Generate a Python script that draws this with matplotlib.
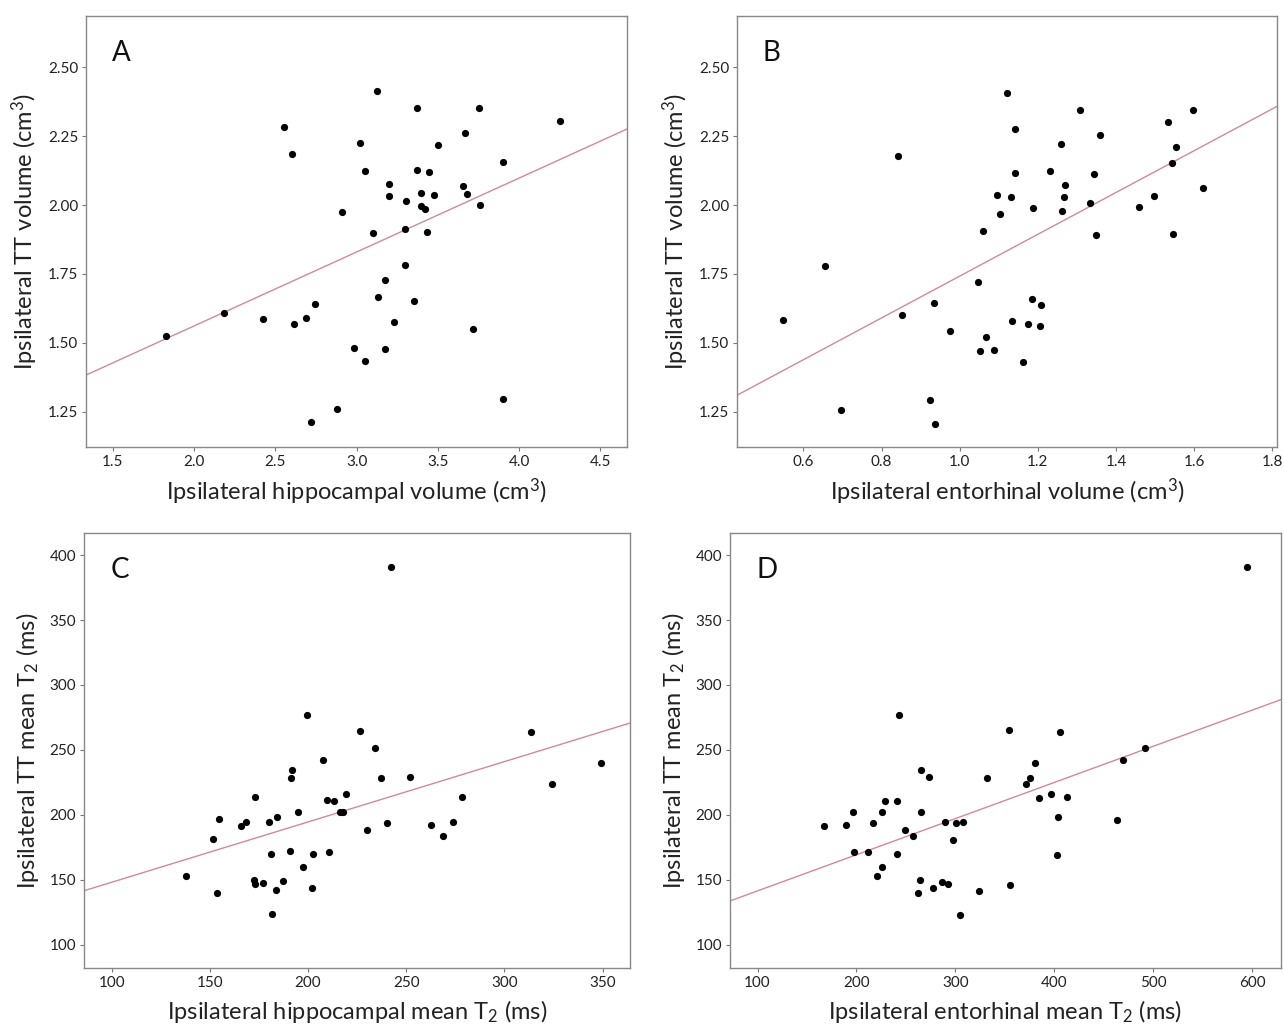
import matplotlib
matplotlib.use("Agg")
import matplotlib.pyplot as plt
import numpy as np

plt.rcParams["font.family"] = ["Lato", "DejaVu Sans"]
plt.rcParams["mathtext.fontset"] = "custom"
plt.rcParams["mathtext.rm"] = "Lato"
plt.rcParams["mathtext.it"] = "Lato"
plt.rcParams["mathtext.default"] = "regular"

# panel A: hippocampal volume vs TT volume
hip_vol = [1.825, 2.186, 2.421, 2.612, 2.691, 2.744, 2.553, 2.605, 2.718, 2.878,
           2.911, 2.984, 3.052, 3.021, 3.049, 3.124, 3.104, 3.133, 3.173, 3.175,
           3.201, 3.201, 3.230, 3.296, 3.300, 3.305, 3.353, 3.375, 3.375, 3.397,
           3.397, 3.419, 3.432, 3.445, 3.476, 3.502, 3.654, 3.665, 3.678, 3.715,
           3.753, 3.759, 3.902, 3.900, 4.254]
tt_vol_a = [1.526, 1.607, 1.587, 1.569, 1.590, 1.641, 2.282, 2.185, 1.214, 1.261,
            1.974, 1.480, 1.436, 2.226, 2.123, 2.412, 1.897, 1.666, 1.728, 1.477,
            2.076, 2.034, 1.575, 1.784, 1.912, 2.014, 1.651, 2.351, 2.127, 2.043,
            1.995, 1.984, 1.903, 2.118, 2.035, 2.218, 2.070, 2.260, 2.040, 1.549,
            2.350, 1.999, 2.157, 1.298, 2.306]

# panel B: entorhinal volume vs TT volume
ent_vol = [0.547, 0.655, 0.697, 0.843, 0.853, 0.923, 0.935, 0.938, 0.974, 1.047,
           1.052, 1.059, 1.066, 1.088, 1.096, 1.103, 1.121, 1.132, 1.134, 1.141,
           1.141, 1.162, 1.175, 1.185, 1.188, 1.206, 1.207, 1.232, 1.259, 1.261,
           1.268, 1.270, 1.309, 1.333, 1.343, 1.350, 1.360, 1.460, 1.498, 1.533,
           1.543, 1.547, 1.553, 1.596, 1.623]
tt_vol_b = [1.585, 1.780, 1.256, 2.178, 1.602, 1.294, 1.646, 1.208, 1.545, 1.722,
            1.471, 1.907, 1.522, 1.475, 2.036, 1.968, 2.407, 2.030, 1.581, 2.276,
            2.116, 1.431, 1.569, 1.661, 1.989, 1.563, 1.636, 2.122, 2.221, 1.978,
            2.028, 2.071, 2.343, 2.007, 2.111, 1.891, 2.254, 1.994, 2.033, 2.300,
            2.151, 1.896, 2.212, 2.344, 2.063]

# panel C: hippocampal mean T2 vs TT mean T2
hip_t2 = [137.6, 151.7, 153.5, 154.4, 166.0, 168.3, 172.8, 172.7, 173.0, 177.2,
          180.1, 181.3, 181.7, 183.7, 184.4, 187.3, 190.6, 191.1, 191.8, 194.7,
          197.4, 199.4, 202.0, 202.5, 207.7, 209.5, 210.4, 213.0, 216.2, 217.9,
          219.3, 226.4, 230.0, 234.0, 237.2, 240.3, 251.8, 262.5, 268.8, 273.7,
          278.2, 313.3, 324.3, 348.9, 242.0]
tt_t2_c = [153.1, 181.2, 139.9, 196.4, 191.5, 194.8, 213.7, 150.0, 146.4, 147.7,
           194.1, 170.1, 123.7, 141.8, 198.5, 149.0, 171.9, 228.6, 234.8, 202.1,
           160.1, 276.8, 143.8, 169.6, 242.5, 211.1, 171.4, 210.6, 202.3, 202.3,
           216.2, 264.7, 188.4, 251.3, 228.6, 193.6, 229.4, 192.3, 183.8, 194.8,
           213.4, 263.4, 224.0, 239.7, 391.0]

# panel D: entorhinal mean T2 vs TT mean T2
ent_t2 = [167.4, 189.5, 196.6, 197.3, 211.2, 216.2, 221.2, 225.4, 225.4, 228.7,
          241.1, 240.8, 242.6, 248.6, 257.5, 261.8, 264.6, 265.4, 265.4, 272.8,
          277.1, 286.0, 289.6, 292.4, 297.1, 300.3, 304.2, 308.1, 323.8, 331.6,
          353.7, 355.5, 370.8, 374.8, 380.8, 384.7, 396.9, 402.6, 403.6, 406.1,
          412.9, 463.2, 469.6, 491.3, 595.0]
tt_t2_d = [191.2, 192.0, 201.8, 171.1, 171.6, 193.8, 152.6, 202.1, 159.8, 210.3,
           210.8, 169.8, 277.1, 188.1, 183.5, 139.4, 149.5, 234.8, 202.1, 229.1,
           143.6, 148.5, 194.3, 146.9, 180.9, 193.6, 122.9, 194.3, 141.5, 228.6,
           265.0, 145.9, 223.7, 228.6, 239.7, 213.1, 216.0, 169.3, 198.5, 263.7,
           213.4, 196.1, 242.5, 251.5, 391.0]

vol_ticks = [1.25, 1.50, 1.75, 2.00, 2.25, 2.50]
t2_ticks = [100, 150, 200, 250, 300, 350, 400]

panels = [
    dict(letter="A", x=hip_vol, y=tt_vol_a, rect=[86, 16, 627, 447],
         xlim=(1.334, 4.665), ylim=(1.123, 2.685),
         xticks=[1.5, 2.0, 2.5, 3.0, 3.5, 4.0, 4.5], xfmt="{:.1f}",
         yticks=vol_ticks, yfmt="{:.2f}",
         xlabel="Ipsilateral hippocampal volume (cm$^3$)",
         ylabel="Ipsilateral TT volume (cm$^3$)"),
    dict(letter="B", x=ent_vol, y=tt_vol_b, rect=[737, 16, 1277, 447],
         xlim=(0.430, 1.812), ylim=(1.123, 2.685),
         xticks=[0.6, 0.8, 1.0, 1.2, 1.4, 1.6, 1.8], xfmt="{:.1f}",
         yticks=vol_ticks, yfmt="{:.2f}",
         xlabel="Ipsilateral entorhinal volume (cm$^3$)",
         ylabel="Ipsilateral TT volume (cm$^3$)"),
    dict(letter="C", x=hip_t2, y=tt_t2_c, rect=[84, 533, 630, 968],
         xlim=(85.9, 363.9), ylim=(82, 417),
         xticks=[100, 150, 200, 250, 300, 350], xfmt="{:.0f}",
         yticks=t2_ticks, yfmt="{:.0f}",
         xlabel="Ipsilateral hippocampal mean T$_2$ (ms)",
         ylabel="Ipsilateral TT mean T$_2$ (ms)"),
    dict(letter="D", x=ent_t2, y=tt_t2_d, rect=[730, 533, 1281, 968],
         xlim=(72.2, 628.9), ylim=(82, 417),
         xticks=[100, 200, 300, 400, 500, 600], xfmt="{:.0f}",
         yticks=t2_ticks, yfmt="{:.0f}",
         xlabel="Ipsilateral entorhinal mean T$_2$ (ms)",
         ylabel="Ipsilateral TT mean T$_2$ (ms)"),
]

W, H = 1284, 1030
fig = plt.figure(figsize=(W / 100, H / 100), dpi=100)
fig.patch.set_facecolor("white")

for p in panels:
    l, t, r, b = p["rect"]
    ax = fig.add_axes([l / W, 1 - b / H, (r - l) / W, (b - t) / H])
    x = np.array(p["x"])
    y = np.array(p["y"])
    ax.scatter(x, y, s=27, color="black", linewidths=0, zorder=3)
    # least squares fit line across the full axis
    slope, icpt = np.polyfit(x, y, 1)
    xs = np.array(p["xlim"])
    ax.plot(xs, icpt + slope * xs, color="#cf8b96", lw=1.0, zorder=2)
    ax.set_xlim(p["xlim"])
    ax.set_ylim(p["ylim"])
    ax.set_xticks(p["xticks"])
    ax.set_xticklabels([p["xfmt"].format(v) for v in p["xticks"]])
    ax.set_yticks(p["yticks"])
    ax.set_yticklabels([p["yfmt"].format(v) for v in p["yticks"]])
    ax.tick_params(direction="out", length=3, width=0.8, color="#777777",
                   labelsize=11, labelcolor="#222222", pad=2.5)
    for sp in ax.spines.values():
        sp.set_color("#888888")
        sp.set_linewidth(1.0)
    ax.set_xlabel(p["xlabel"], fontsize=17, color="#222222", labelpad=6)
    ax.set_ylabel(p["ylabel"], fontsize=17, color="#222222", labelpad=6)
    ax.text(0.048, 0.915, p["letter"], transform=ax.transAxes, fontsize=20,
            ha="left", va="center", color="#111111")

fig.savefig("out.png", dpi=100, facecolor="white")
